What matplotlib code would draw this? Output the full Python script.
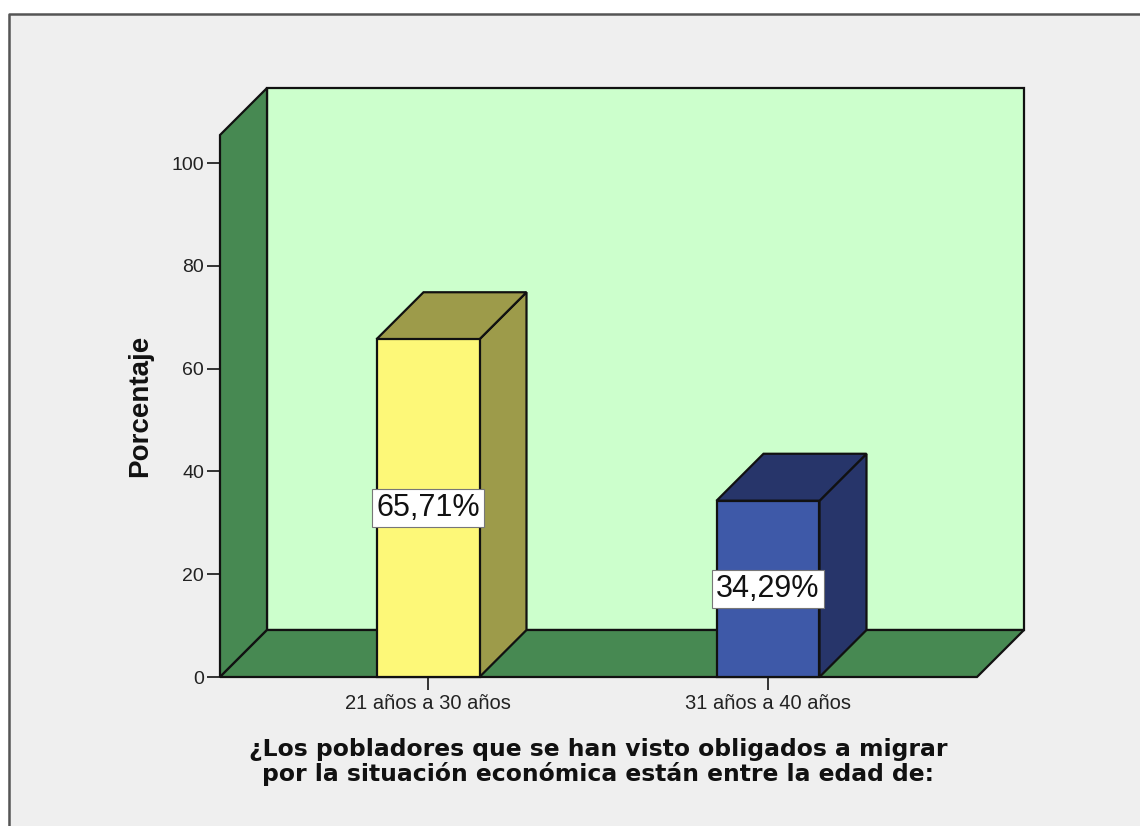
import matplotlib
matplotlib.use('Agg')
import matplotlib.pyplot as plt
from matplotlib.patches import Polygon, Rectangle

categories = ['21 años a 30 años', '31 años a 40 años']
percentages = [65.71, 34.29]
value_labels = ['65,71%', '34,29%']
y_ticks = [0, 20, 40, 60, 80, 100]
front_colors = ['#fdf878', '#3e59a8']
side_colors = ['#9d9b4a', '#27356a']
x_title = '¿Los pobladores que se han visto obligados a migrar\npor la situación económica están entre la edad de:'

W, H = 1140, 826
LEFT, RIGHT, TOP, BOTTOM = 220, 977, 135, 677
PX_X = 340.0   # pixels per category
PX_Y = 5.14    # pixels per percent
DX = 47 / PX_X
DY = 47 / PX_Y
BAR_W = 103 / PX_X

plt.rcParams['font.family'] = ['Liberation Sans', 'DejaVu Sans']

fig = plt.figure(figsize=(W / 100, H / 100), dpi=100, facecolor='white')

# grey panel with the dark frame on the top and left only
fig.add_artist(Rectangle((8 / W, 0), 1 - 8 / W, 1 - 14 / H, transform=fig.transFigure,
                         facecolor='#efefef', edgecolor='none', zorder=-2))
fig.add_artist(plt.Line2D([8.5 / W, 8.5 / W, 1], [0, 1 - 13.5 / H, 1 - 13.5 / H],
                          color='#555555', lw=1.8, zorder=-1))

ax = fig.add_axes([LEFT / W, 1 - BOTTOM / H, (RIGHT - LEFT) / W, (BOTTOM - TOP) / H])
ax.patch.set_visible(False)
xmin = 0 - (428 - LEFT) / PX_X
xmax = xmin + (RIGHT - LEFT) / PX_X
ymax = (BOTTOM - TOP) / PX_Y
ax.set_xlim(xmin, xmax)
ax.set_ylim(0, ymax)
for s in ax.spines.values():
    s.set_visible(False)


def face(points, color, z):
    ax.add_patch(Polygon(points, closed=True, facecolor=color, edgecolor='#111111',
                         lw=1.6, joinstyle='miter', clip_on=False, zorder=z))


# 3d box: back wall, left wall, floor
face([(xmin + DX, DY), (xmax + DX, DY), (xmax + DX, ymax + DY), (xmin + DX, ymax + DY)], '#ccffcc', 1)
face([(xmin, 0), (xmin + DX, DY), (xmin + DX, ymax + DY), (xmin, ymax)], '#478952', 2)
face([(xmin, 0), (xmax, 0), (xmax + DX, DY), (xmin + DX, DY)], '#478952', 2)

for i, val in enumerate(percentages):
    x0 = i - BAR_W / 2
    x1 = i + BAR_W / 2
    face([(x1, 0), (x1 + DX, DY), (x1 + DX, val + DY), (x1, val)], side_colors[i], 3)
    face([(x0, val), (x1, val), (x1 + DX, val + DY), (x0 + DX, val + DY)], side_colors[i], 3)
    face([(x0, 0), (x1, 0), (x1, val), (x0, val)], front_colors[i], 4)
    ax.text(i, val / 2, value_labels[i], ha='center', va='center', fontsize=22, color='#111111',
            zorder=5, bbox=dict(boxstyle='square,pad=0.13', facecolor='white',
                                edgecolor='#777777', lw=0.8))

ax.set_xticks(range(len(categories)))
ax.set_xticklabels(categories)
ax.set_yticks(y_ticks)
ax.tick_params(axis='both', direction='out', length=9.4, width=1.4, color='#333333',
               labelcolor='#222222', pad=2)
ax.tick_params(axis='x', labelsize=14.5, pad=3)
ax.tick_params(axis='y', labelsize=14)

fig.text(140 / W, 1 - 406 / H, 'Porcentaje', rotation=90, ha='center', va='center',
         fontsize=20, fontweight='bold', color='#111111', family='Liberation Sans')
fig.text(598 / W, 1 - 762 / H, x_title, ha='center', va='center', fontsize=16.9,
         fontweight='bold', family='DejaVu Sans', color='#111111', linespacing=1.02)

fig.savefig('out.png', dpi=100, facecolor=fig.get_facecolor())
